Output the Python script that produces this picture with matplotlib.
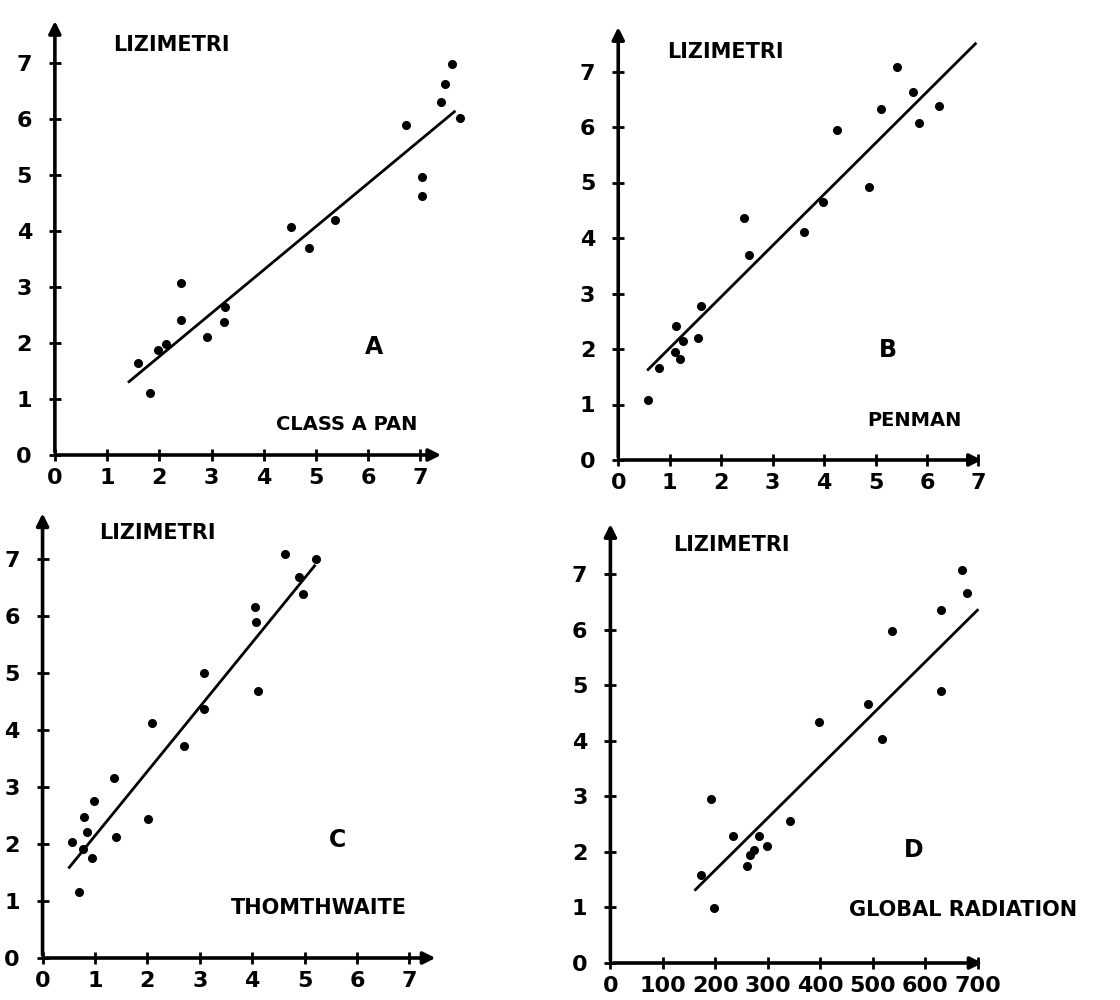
import matplotlib.pyplot as plt

## data ##
a_x = [1.6, 1.82, 1.97, 2.12, 2.42, 2.42, 2.92, 3.24, 3.26, 4.53, 4.87, 5.37, 6.72, 7.03, 7.03, 7.39, 7.48, 7.61, 7.75]
a_y = [1.64, 1.10, 1.88, 1.99, 3.07, 2.41, 2.10, 2.38, 2.65, 4.08, 3.69, 4.20, 5.89, 4.97, 4.63, 6.31, 6.62, 6.99, 6.01]
a_line_x = [1.42, 7.65]
a_line_y = [1.31, 6.13]

b_x = [0.57, 0.8, 1.13, 1.1, 1.2, 1.26, 1.55, 1.61, 2.44, 2.55, 3.61, 3.98, 4.26, 4.87, 5.11, 5.41, 5.72, 5.85, 6.24]
b_y = [1.08, 1.65, 2.41, 1.95, 1.82, 2.14, 2.19, 2.77, 4.36, 3.70, 4.11, 4.64, 5.95, 4.91, 6.33, 7.08, 6.63, 6.08, 6.37]
b_line_x = [0.58, 6.94]
b_line_y = [1.63, 7.5]

c_x = [0.56, 0.69, 0.77, 0.80, 0.85, 0.95, 0.98, 1.37, 1.41, 2.02, 2.08, 2.69, 3.08, 3.08, 4.05, 4.08, 4.12, 4.62, 4.89, 4.97, 5.22]
c_y = [2.03, 1.15, 1.91, 2.47, 2.21, 1.76, 2.75, 3.15, 2.13, 2.43, 4.12, 3.72, 5.0, 4.36, 6.15, 5.9, 4.69, 7.09, 6.68, 6.38, 7.0]
c_line_x = [0.51, 5.19]
c_line_y = [1.59, 6.88]

d_x = [172, 191, 197, 233, 260, 266, 274, 283, 298, 343, 397, 490, 517, 537, 629, 629, 669, 680]
d_y = [1.59, 2.96, 0.99, 2.28, 1.74, 1.95, 2.04, 2.28, 2.10, 2.55, 4.34, 4.67, 4.04, 5.98, 4.89, 6.35, 7.07, 6.66]
d_line_x = [162, 699]
d_line_y = [1.32, 6.35]

y_ticks = [0, 1, 2, 3, 4, 5, 6, 7]
x_ticks_et = [0, 1, 2, 3, 4, 5, 6, 7]
x_ticks_rad = [0, 100, 200, 300, 400, 500, 600, 700]

panels = [
    # rect, x, y, line x, line y, xlim, ylim, x arrow end, y arrow end, xticks, letter, letter pos, name, name pos, name size, lizimetri pos
    ([0.049, 0.545, 0.373, 0.448], a_x, a_y, a_line_x, a_line_y, 8.0, 8.0, 7.45, 7.8, x_ticks_et,
     'A', (6.12, 1.93), 'CLASS A PAN', (5.58, 0.54), 14, (2.24, 7.32)),
    ([0.552, 0.540, 0.340, 0.444], b_x, b_y, b_line_x, b_line_y, 7.4, 8.0, 7.12, 7.85, x_ticks_et,
     'B', (5.24, 1.98), 'PENMAN', (5.75, 0.72), 14, (2.08, 7.35)),
    ([0.038, 0.042, 0.365, 0.456], c_x, c_y, c_line_x, c_line_y, 7.8, 8.0, 7.55, 7.85, x_ticks_et,
     'C', (5.62, 2.07), 'THOMTHWAITE', (5.28, 0.88), 15, (2.19, 7.46)),
    ([0.545, 0.037, 0.3375, 0.450], d_x, d_y, d_line_x, d_line_y, 720, 8.1, 714, 7.95, x_ticks_rad,
     'D', (577, 2.04), 'GLOBAL RADIATION', (672, 0.95), 15, (230, 7.53)),
]

fig = plt.figure(figsize=(11.2, 10), dpi=100)

for (rect, xs, ys, lx, ly, xmax, ymax, xarrow, yarrow, xt,
     letter, letter_pos, name, name_pos, name_size, liz_pos) in panels:
    ax = fig.add_axes(rect)
    ax.set_xlim(0, xmax)
    ax.set_ylim(0, ymax)
    for s in ax.spines.values():
        s.set_visible(False)
    ax.set_facecolor('none')

    # axes drawn as arrows
    ax.annotate('', xy=(xarrow, 0), xytext=(0, 0),
                arrowprops=dict(arrowstyle='-|>', lw=2.6, color='black', mutation_scale=18),
                annotation_clip=False)
    ax.annotate('', xy=(0, yarrow), xytext=(0, 0),
                arrowprops=dict(arrowstyle='-|>', lw=2.6, color='black', mutation_scale=18),
                annotation_clip=False)

    ax.set_xticks(xt)
    ax.set_yticks(y_ticks)
    ax.tick_params(direction='inout', length=9, width=2, labelsize=16)
    ax.tick_params(axis='y', pad=12)
    ax.tick_params(axis='x', pad=5)
    for lab in ax.get_xticklabels() + ax.get_yticklabels():
        lab.set_fontweight('bold')

    ax.plot(lx, ly, color='black', lw=2)
    ax.plot(xs, ys, 'o', color='black', markersize=5.5, clip_on=False)

    ax.text(liz_pos[0], liz_pos[1], 'LIZIMETRI', fontsize=15, fontweight='bold',
            ha='center', va='center')
    ax.text(name_pos[0], name_pos[1], name, fontsize=name_size, fontweight='bold',
            ha='center', va='center', clip_on=False)
    ax.text(letter_pos[0], letter_pos[1], letter, fontsize=17, fontweight='bold',
            ha='center', va='center')

plt.savefig('out.png', dpi=100)
